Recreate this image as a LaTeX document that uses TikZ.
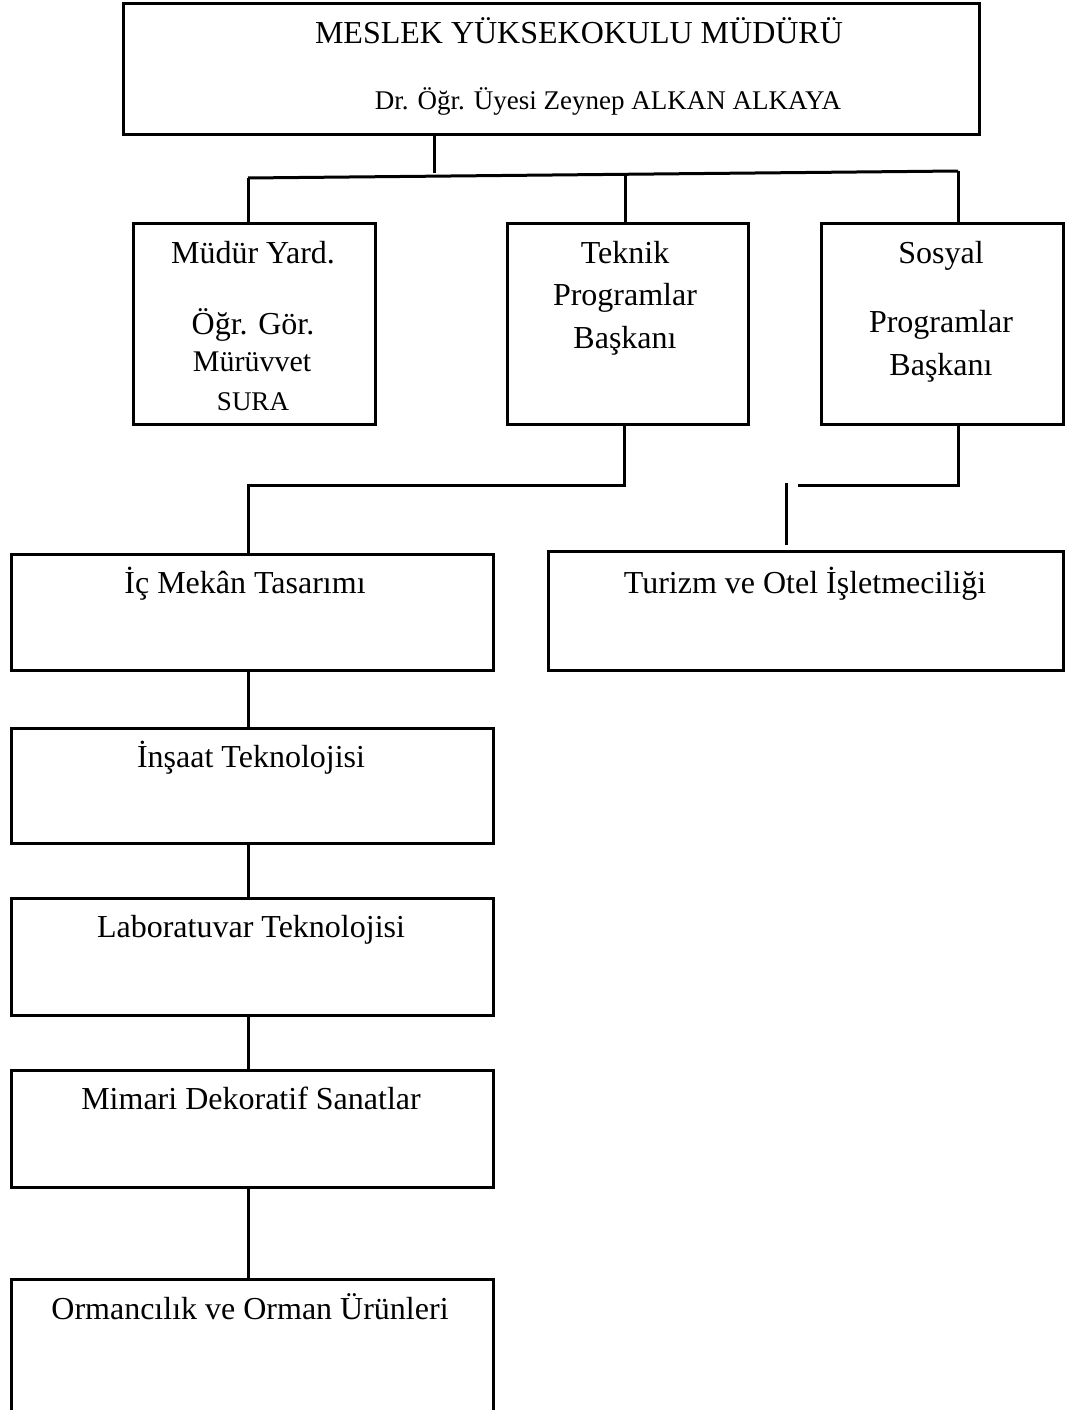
\documentclass[tikz,border=0pt]{standalone}
\usepackage{fontspec}
\setmainfont{Liberation Serif}
\begin{document}
\begin{tikzpicture}[x=1pt,y=-1pt,
  box/.style={draw,line width=2.6pt,inner sep=0pt,anchor=north west},
  conn/.style={line width=3pt},
  big/.style={anchor=base,inner sep=0pt,font=\fontsize{32}{38}\selectfont},
  mid/.style={anchor=base,inner sep=0pt,font=\fontsize{27}{32}\selectfont}]
\useasboundingbox (0,0) rectangle (1067,1410);
% boxes
\node[box,minimum width=856pt,minimum height=131pt] (top) at (122,2) {};
\node[box,minimum width=242pt,minimum height=201pt] (yard) at (132,222) {};
\node[box,minimum width=241pt,minimum height=201pt] (tek) at (506,222) {};
\node[box,minimum width=242pt,minimum height=201pt] (sos) at (820,222) {};
\node[box,minimum width=482pt,minimum height=116pt] (ic) at (10,553) {};
\node[box,minimum width=515pt,minimum height=119pt] (tur) at (547,550) {};
\node[box,minimum width=482pt,minimum height=115pt] (ins) at (10,727) {};
\node[box,minimum width=482pt,minimum height=117pt] (lab) at (10,897) {};
\node[box,minimum width=482pt,minimum height=117pt] (mim) at (10,1069) {};
\node[box,minimum width=482pt,minimum height=140pt] (orm) at (10,1278) {};
% texts
\node[big] (t1) at (579,44) {MESLEK YÜKSEKOKULU MÜDÜRÜ};
\node[mid] (t2) at (608,110) {Dr. Öğr. Üyesi Zeynep ALKAN ALKAYA};
\node[big] (y1) at (253,263) {Müdür Yard.};
\node[big] (y2) at (253,334) {Öğr. Gör.};
\node[anchor=base,inner sep=0pt,font=\fontsize{30}{36}\selectfont] (y3) at (252,371) {Mürüvvet};
\node[mid] (y4) at (253,410) {SURA};
\node[big] (k1) at (625,263) {Teknik};
\node[big] (k2) at (625,305) {Programlar};
\node[big] (k3) at (625,348) {Başkanı};
\node[big] (s1) at (941,263) {Sosyal};
\node[big] (s2) at (941,332) {Programlar};
\node[big] (s3) at (941,375) {Başkanı};
\node[big] (ict) at (245,593) {İç Mekân Tasarımı};
\node[big] (tut) at (805,593) {Turizm ve Otel İşletmeciliği};
\node[big] (inst) at (251,767) {İnşaat Teknolojisi};
\node[big] (labt) at (251,937) {Laboratuvar Teknolojisi};
\node[big] (mimt) at (251,1109) {Mimari Dekoratif Sanatlar};
\node[big] (ormt) at (250,1319) {Ormancılık ve Orman Ürünleri};
% connectors
\coordinate (ht) at (434,173);
\coordinate (hl) at (248,178);
\coordinate (hm) at (625,174.5);
\coordinate (hr) at (958,171);
\draw[conn] (ht |- top.south) -- (ht);
\draw[conn] (hl) -- (hr);
\draw[conn] (hl) -- (hl |- yard.north);
\draw[conn] (hm) -- (hm |- tek.north);
\draw[conn] (hr) -- (hr |- sos.north);
\coordinate (ta) at (624,485);
\coordinate (tb) at (248,485);
\draw[conn] (ta |- tek.south) -- (ta) -- (tb) -- (tb |- ic.north);
\coordinate (sa) at (958,485);
\coordinate (sb) at (798,485);
\draw[conn] (sa |- sos.south) -- (sa) -- (sb);
\coordinate (sc) at (786,483);
\coordinate (sd) at (786,545);
\draw[conn] (sc) -- (sd);
\coordinate (c) at (248,0);
\draw[conn] (c |- ic.south) -- (c |- ins.north);
\draw[conn] (c |- ins.south) -- (c |- lab.north);
\draw[conn] (c |- lab.south) -- (c |- mim.north);
\draw[conn] (c |- mim.south) -- (c |- orm.north);
\end{tikzpicture}
\end{document}
